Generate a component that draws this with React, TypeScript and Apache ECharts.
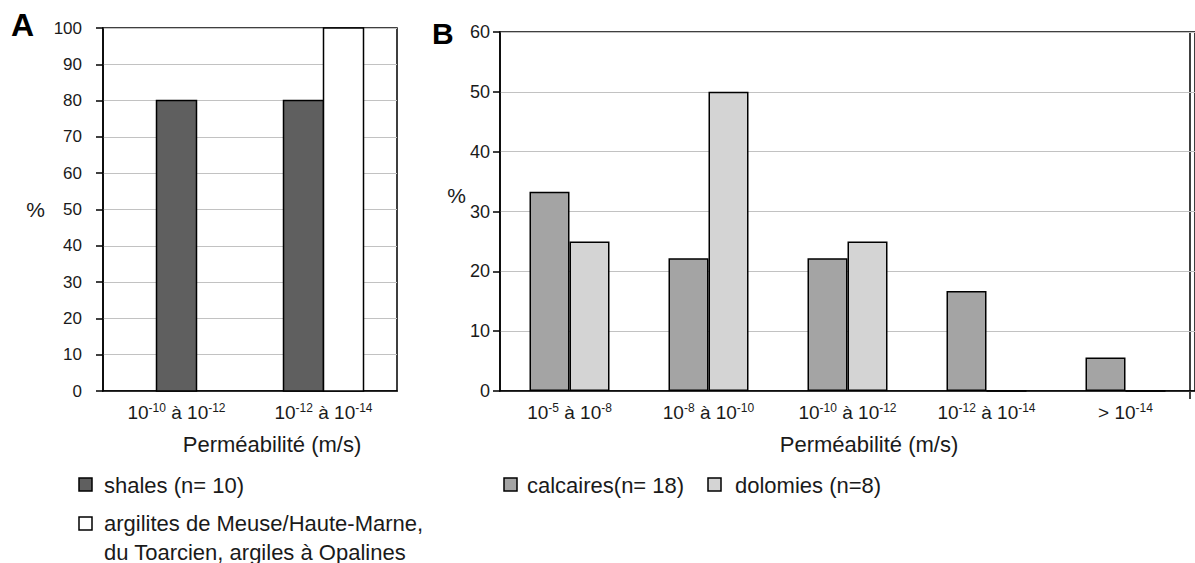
import React, { useEffect, useRef } from 'react';
import * as echarts from 'echarts';

// ---------- data ----------
const categoriesA = ['10^-10 à 10^-12', '10^-12 à 10^-14'];
const shalesA = [80, 80];
const argilitesA = [0, 100];

const categoriesB = ['10^-5 à 10^-8', '10^-8 à 10^-10', '10^-10 à 10^-12', '10^-12 à 10^-14', '> 10^-14'];
const calcairesB = [33.3, 22.2, 22.2, 16.7, 5.6];
const dolomiesB = [25, 50, 25, 0, 0];

const legendA = ['shales (n= 10)', 'argilites de Meuse/Haute-Marne,\ndu Toarcien, argiles à Opalines'];
const legendB = ['calcaires(n= 18)', 'dolomies (n=8)'];
const axisTitle = 'Perméabilité (m/s)';
const yTitle = '%';

// ---------- styles ----------
const FONT = '"Liberation Sans", Arial, Helvetica, sans-serif';
const TXT = '#1a1a1a';
const C_SHALES = '#5f5f5f';
const C_ARG = '#ffffff';
const C_CALC = '#a4a4a4';
const C_DOLO = '#d4d4d4';

const supFmt = (v: string) => v.replace(/\^(-?\d+)/g, '{sup|$1}');

const xLabel = {
  color: TXT,
  fontFamily: FONT,
  fontSize: 19,
  lineHeight: 21,
  margin: 11,
  interval: 0,
  formatter: supFmt,
  rich: {
    sup: { fontSize: 12, lineHeight: 12, verticalAlign: 'top', color: TXT, fontFamily: FONT },
  },
};

const blackLine = { color: '#000', width: 1.5 };

function makeBarRenderer(other: number[], side: number, fill: string) {
  return (params: any, api: any) => {
    const idx = api.value(0);
    const val = api.value(1);
    if (!val) return { type: 'group', children: [] };
    const bw = 40;
    const base = api.coord([idx, 0]);
    const top = api.coord([idx, val]);
    const shift = other[idx] ? (side * bw) / 2 : 0;
    return {
      type: 'rect',
      shape: { x: base[0] + shift - bw / 2, y: top[1], width: bw, height: base[1] - top[1] },
      style: { fill, stroke: '#000', lineWidth: 1.5 },
    };
  };
}

function legendRect(x: number, y: number, fill: string) {
  return {
    type: 'rect',
    shape: { x, y, width: 13, height: 13 },
    style: { fill, stroke: '#000', lineWidth: 1.5 },
  };
}

function legendText(x: number, y: number, text: string, lineHeight = 29) {
  return {
    type: 'text',
    x,
    y,
    style: {
      text,
      fill: TXT,
      fontFamily: FONT,
      fontSize: 22,
      lineHeight,
      textAlign: 'left',
      textVerticalAlign: 'middle',
      align: 'left',
      verticalAlign: 'middle',
    },
  };
}

export default function App() {
  const ref = useRef<HTMLDivElement>(null);

  useEffect(() => {
    if (!ref.current) return;
    const chart = echarts.init(ref.current, undefined, { renderer: 'svg' });

    const option: any = {
      animation: false,
      backgroundColor: '#ffffff',
      textStyle: { fontFamily: FONT },
      grid: [
        { left: 103, top: 28, width: 294, height: 363, show: true, borderColor: '#000', borderWidth: 1.5, backgroundColor: 'transparent' },
        { left: 500, top: 32, width: 697, height: 359, show: true, borderColor: '#000', borderWidth: 1.5, backgroundColor: 'transparent' },
      ],
      xAxis: [
        {
          type: 'category',
          gridIndex: 0,
          data: categoriesA,
          axisLine: { lineStyle: blackLine },
          axisTick: { length: 9, lineStyle: blackLine },
          axisLabel: xLabel,
          splitLine: { show: false },
          name: axisTitle,
          nameLocation: 'middle',
          nameGap: 42,
          nameTextStyle: { fontSize: 22, fontFamily: FONT, color: TXT, padding: [0, 0, 0, 44] },
        },
        {
          type: 'category',
          gridIndex: 1,
          data: categoriesB,
          axisLine: { lineStyle: blackLine },
          axisTick: { length: 9, lineStyle: blackLine },
          axisLabel: xLabel,
          splitLine: { show: false },
          name: axisTitle,
          nameLocation: 'middle',
          nameGap: 42,
          nameTextStyle: { fontSize: 22, fontFamily: FONT, color: TXT, padding: [0, 0, 0, 43] },
        },
      ],
      yAxis: [
        {
          type: 'value',
          gridIndex: 0,
          min: 0,
          max: 100,
          interval: 10,
          axisLine: { show: true, lineStyle: blackLine },
          axisTick: { show: true, length: 7, lineStyle: blackLine },
          axisLabel: { color: TXT, fontFamily: FONT, fontSize: 17, margin: 21 },
          splitLine: { show: true, lineStyle: { color: '#c2c2c2', width: 1 } },
          name: yTitle,
          nameLocation: 'middle',
          nameRotate: 0,
          nameGap: 58,
          nameTextStyle: { fontSize: 21, fontFamily: FONT, color: TXT },
        },
        {
          type: 'value',
          gridIndex: 1,
          min: 0,
          max: 60,
          interval: 10,
          axisLine: { show: true, lineStyle: blackLine },
          axisTick: { show: true, length: 7, lineStyle: blackLine },
          axisLabel: { color: TXT, fontFamily: FONT, fontSize: 18, margin: 10 },
          splitLine: { show: true, lineStyle: { color: '#c2c2c2', width: 1 } },
        },
      ],
      series: [
        {
          type: 'custom',
          name: legendA[0],
          xAxisIndex: 0,
          yAxisIndex: 0,
          data: shalesA.map((v, i) => [i, v]),
          encode: { x: 0, y: 1 },
          itemStyle: { color: C_SHALES },
          renderItem: makeBarRenderer(argilitesA, -1, C_SHALES),
          z: 3,
        },
        {
          type: 'custom',
          name: legendA[1],
          xAxisIndex: 0,
          yAxisIndex: 0,
          data: argilitesA.map((v, i) => [i, v]),
          encode: { x: 0, y: 1 },
          itemStyle: { color: C_ARG },
          renderItem: makeBarRenderer(shalesA, 1, C_ARG),
          z: 3,
        },
        {
          type: 'bar',
          name: legendB[0],
          xAxisIndex: 1,
          yAxisIndex: 1,
          data: calcairesB,
          barWidth: 40,
          barGap: '0%',
          itemStyle: { color: C_CALC, borderColor: '#000', borderWidth: 1.5 },
        },
        {
          type: 'bar',
          name: legendB[1],
          xAxisIndex: 1,
          yAxisIndex: 1,
          data: dolomiesB,
          barWidth: 40,
          barGap: '0%',
          itemStyle: { color: C_DOLO, borderColor: '#000', borderWidth: 1.5 },
        },
      ],
      graphic: [
        {
          type: 'text',
          x: 11,
          y: 25,
          style: {
            text: 'A', fill: '#000', fontFamily: FONT, fontSize: 32, fontWeight: 'bold',
            textAlign: 'left', textVerticalAlign: 'middle', align: 'left', verticalAlign: 'middle',
          },
        },
        {
          type: 'text',
          x: 432,
          y: 33,
          style: {
            text: 'B', fill: '#000', fontFamily: FONT, fontSize: 30, fontWeight: 'bold',
            textAlign: 'left', textVerticalAlign: 'middle', align: 'left', verticalAlign: 'middle',
          },
        },
        {
          type: 'text',
          x: 466,
          y: 195,
          style: {
            text: yTitle, fill: TXT, fontFamily: FONT, fontSize: 21,
            textAlign: 'right', textVerticalAlign: 'middle', align: 'right', verticalAlign: 'middle',
          },
        },
        {
          type: 'line',
          shape: { x1: 1190, y1: 32, x2: 1190, y2: 399 },
          style: { stroke: '#000', lineWidth: 1.5 },
        },
        legendRect(79, 478, C_SHALES),
        legendText(104, 485, legendA[0]),
        legendRect(79, 517, C_ARG),
        {
          type: 'text',
          x: 104,
          y: 508.5,
          style: {
            text: legendA[1], fill: TXT, fontFamily: FONT, fontSize: 22, lineHeight: 29,
            textAlign: 'left', textVerticalAlign: 'top', align: 'left', verticalAlign: 'top',
          },
        },
        legendRect(504, 478, C_CALC),
        legendText(527, 485, legendB[0]),
        legendRect(708, 478, C_DOLO),
        legendText(735, 485, legendB[1]),
      ],
    };

    chart.setOption(option);
    return () => {
      chart.dispose();
    };
  }, []);

  return (
    <div
      ref={ref}
      style={{ position: 'fixed', left: 0, top: 0, width: 1195, height: 563, background: '#fff' }}
    />
  );
}
